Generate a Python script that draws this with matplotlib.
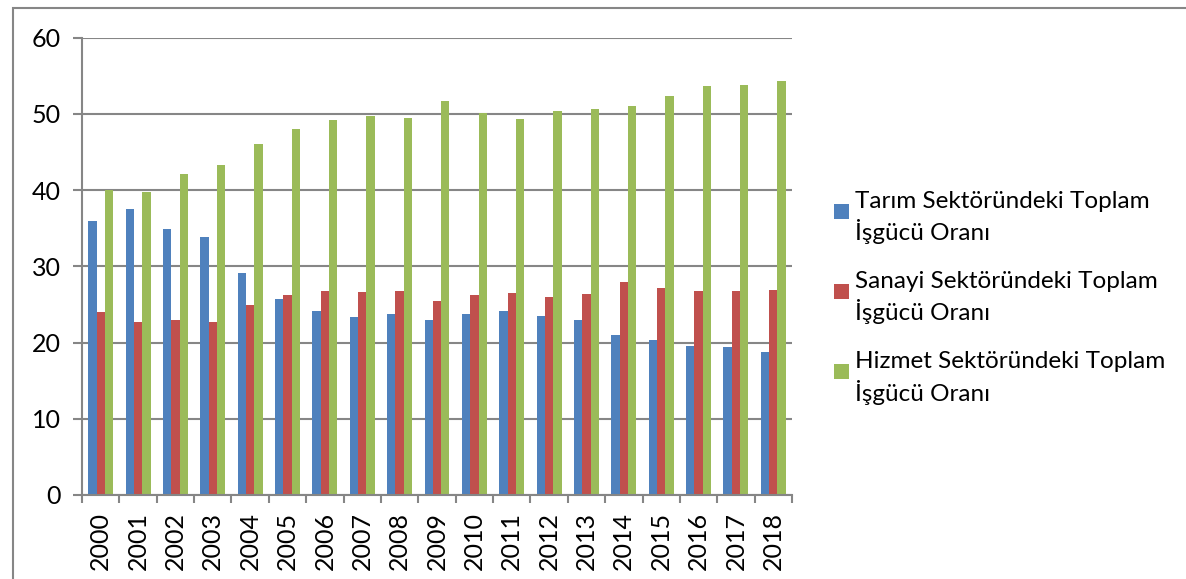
import matplotlib
matplotlib.use("Agg")
import matplotlib.pyplot as plt
from matplotlib.patches import Rectangle
import numpy as np

plt.rcParams['font.family'] = ['Lato', 'DejaVu Sans']

years = [str(y) for y in range(2000, 2019)]
tarim = [36.0, 37.5, 34.9, 33.9, 29.1, 25.7, 24.1, 23.4, 23.7, 23.0,
         23.7, 24.2, 23.5, 22.9, 21.0, 20.4, 19.5, 19.4, 18.7]
sanayi = [24.0, 22.7, 23.0, 22.7, 24.9, 26.3, 26.8, 26.7, 26.8, 25.4,
          26.2, 26.5, 26.0, 26.4, 27.9, 27.2, 26.8, 26.8, 26.9]
hizmet = [40.0, 39.7, 42.1, 43.3, 46.0, 48.0, 49.2, 49.7, 49.5, 51.7,
          50.1, 49.3, 50.4, 50.7, 51.0, 52.4, 53.7, 53.8, 54.3]
labels = ["Tarım Sektöründeki Toplam\nİşgücü Oranı",
          "Sanayi Sektöründeki Toplam\nİşgücü Oranı",
          "Hizmet Sektöründeki Toplam\nİşgücü Oranı"]
colors = ["#4F81BD", "#C0504D", "#9BBB59"]

W, H = 1186, 579
fig = plt.figure(figsize=(W / 100, H / 100), dpi=100)
ax = fig.add_axes([82 / W, 1 - 495 / H, (792 - 82) / W, (495 - 37.7) / H])

x = np.arange(len(years))
bw = 1 / 4.5
for k, (vals, c, lab) in enumerate(zip([tarim, sanayi, hizmet], colors, labels)):
    ax.bar(x + (k - 1) * bw, vals, width=bw, color=c, label=lab, zorder=3,
           edgecolor='none')

gc = "#868686"
ax.set_xlim(-0.5, len(years) - 0.5)
ax.set_ylim(0, 60)
ax.set_yticks(range(0, 61, 10))
ax.yaxis.grid(True, color=gc, linewidth=1.5, zorder=0)
ax.set_axisbelow(True)
for s in ['top', 'right']:
    ax.spines[s].set_visible(False)
for s in ['left', 'bottom']:
    ax.spines[s].set_color(gc)
    ax.spines[s].set_linewidth(1.5)
    ax.spines[s].set_zorder(4)

ax.set_xticks(x)
ax.set_xticklabels(years, rotation=90)
ax.set_xticks(np.arange(-0.5, len(years), 1.0), minor=True)
ax.tick_params(axis='x', which='major', length=0, pad=12, labelsize=18)
ax.tick_params(axis='x', which='minor', length=6, width=1.5, color=gc, direction='out')
ax.tick_params(axis='y', length=6.5, width=1.5, color=gc, pad=9, labelsize=18)

fs = 17.5
leg = ax.legend(loc='upper left', bbox_to_anchor=(834 / W, 1 - 191 / H),
                bbox_transform=fig.transFigure, frameon=False, fontsize=fs,
                handlelength=0.62, handleheight=2.4, handletextpad=0.25,
                labelspacing=1.1, borderpad=0, borderaxespad=0)
for t in leg.get_texts():
    t.set_linespacing(1.35)
for p in leg.get_patches():
    full = p.get_height()
    sq = p.get_width()
    p.set_y(p.get_y() + full - sq - 5)
    p.set_height(sq)

fig.patches.append(Rectangle((13 / W, -0.05), 1.1, 1 - 8 / H + 0.05,
                             transform=fig.transFigure, fill=False,
                             edgecolor=gc, linewidth=1.5))

fig.savefig("out.png", dpi=100)
